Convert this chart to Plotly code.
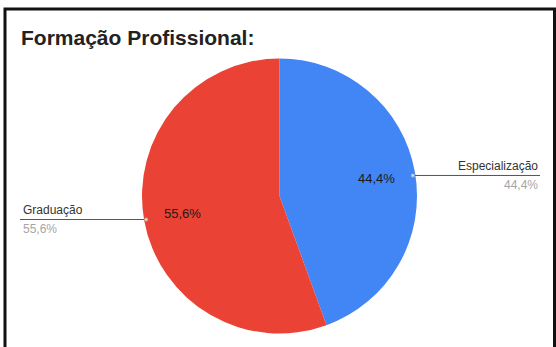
import math
import plotly.graph_objects as go

labels = ["Especialização", "Graduação"]
values = [4, 5]
colors = ["#4285F4", "#EA4335"]
title = "Formação Profissional:"

W, H = 556, 347
cx, cy, R = 279.5, 196.0, 137.5

total = sum(values)
pct = [f"{v / total * 100:.1f}".replace(".", ",") + "%" for v in values]

fig = go.Figure(go.Pie(
    labels=labels, values=values, sort=False, direction="clockwise", rotation=0,
    marker=dict(colors=colors, line=dict(width=0)),
    textinfo="none",
    hoverinfo="label+percent", showlegend=False,
    domain=dict(x=[(cx - R) / W, (cx + R) / W], y=[1 - (cy + R) / H, 1 - (cy - R) / H]),
))

def px(x):
    return x / W

def py(y):
    return 1 - y / H

FONT = "Liberation Sans, Arial"
shapes = [dict(type="rect", xref="paper", yref="paper", x0=px(5), x1=px(554.5),
               y0=py(360), y1=py(9), line=dict(color="#111111", width=3), layer="above")]
annotations = []

cum = 0
for i, v in enumerate(values):
    mid = (cum + v / 2) / total * 2 * math.pi
    cum += v
    s, c = math.sin(mid), math.cos(mid)
    # inside percentage
    annotations.append(dict(xref="paper", yref="paper", x=px(cx + 0.72 * R * s), y=py(cy - 0.72 * R * c),
                            xanchor="center", yanchor="middle", showarrow=False, text=pct[i],
                            font=dict(family=FONT, size=13, color="#1a1a1a")))
    ex = cx + R * s * 0.985
    ey = cy - R * c * 0.985 + (3 if s > 0 else 0)
    if s > 0:
        x_end, anchor, tx = 540, "right", 540
    else:
        x_end, anchor, tx = 20, "left", 21
    shapes.append(dict(type="line", xref="paper", yref="paper", x0=px(ex), y0=py(ey),
                       x1=px(x_end), y1=py(ey), line=dict(color="#555555", width=1)))
    shapes.append(dict(type="circle", xref="paper", yref="paper", x0=px(ex - 1.5), x1=px(ex + 1.5),
                       y0=py(ey - 1.5), y1=py(ey + 1.5), line=dict(color="#bbbbbb", width=1),
                       fillcolor="#dddddd"))
    annotations.append(dict(xref="paper", yref="paper", x=px(tx), y=py(ey - 0.5), xanchor=anchor,
                            yanchor="bottom", showarrow=False, text=labels[i],
                            font=dict(family=FONT, size=12, color="#333333")))
    annotations.append(dict(xref="paper", yref="paper", x=px(tx), y=py(ey + 0.5), xanchor=anchor,
                            yanchor="top", showarrow=False, text=pct[i],
                            font=dict(family=FONT, size=12, color="#a6a6a6")))

fig.update_layout(
    width=W, height=H, margin=dict(l=0, r=0, t=0, b=0),
    paper_bgcolor="white", plot_bgcolor="white",
    title=dict(text="<b>" + title + "</b>", x=px(21), xanchor="left", y=py(38), yanchor="middle",
               font=dict(family=FONT, size=21, color="#222222")),
    shapes=shapes, annotations=annotations,
)

fig.write_html("out.html")
